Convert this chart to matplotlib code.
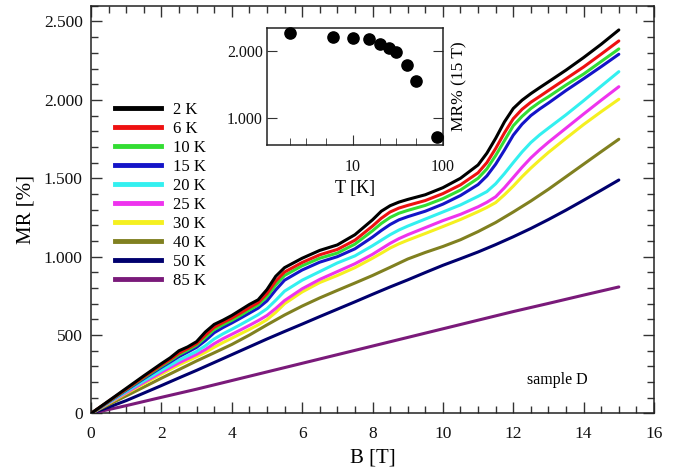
import matplotlib
matplotlib.use('Agg')
import matplotlib.pyplot as plt
from matplotlib.ticker import MultipleLocator, FuncFormatter, FixedLocator, NullFormatter
from matplotlib.lines import Line2D

plt.rcParams['font.family'] = ['Liberation Serif', 'DejaVu Serif']

# ---------------- data ----------------
B_fine = [0, 0.5, 1, 1.5, 2, 2.25, 2.5, 2.75, 3, 3.25, 3.5, 3.75, 4, 4.25, 4.5, 4.75,
          5, 5.25, 5.5, 6, 6.5, 7, 7.5, 8, 8.25, 8.5, 8.75, 9, 9.5, 10, 10.5, 11, 11.25, 11.5,
          11.75, 12, 12.25, 12.5, 12.75, 13, 13.5, 14, 14.5, 15]

mr_2K = [0, 80, 160, 240, 318, 355, 400, 425, 458, 520, 568, 595, 625, 660, 695, 725,
         790, 875, 930, 990, 1040, 1075, 1140, 1235, 1290, 1325, 1348, 1365, 1395, 1440, 1500, 1585, 1660, 1755,
         1860, 1945, 1998, 2040, 2078, 2115, 2190, 2270, 2355, 2446]
mr_6K = [0, 78, 155, 233, 309, 345, 385, 414, 446, 500, 550, 580, 608, 641, 675, 707,
         765, 845, 902, 963, 1012, 1046, 1105, 1195, 1245, 1285, 1310, 1327, 1358, 1402, 1458, 1535, 1600, 1690,
         1790, 1880, 1940, 1985, 2022, 2060, 2135, 2210, 2292, 2376]
mr_10K = [0, 76, 152, 228, 302, 337, 375, 404, 436, 485, 535, 566, 594, 626, 660, 692,
          745, 820, 880, 942, 990, 1023, 1080, 1165, 1212, 1250, 1277, 1295, 1327, 1370, 1425, 1500, 1560, 1645,
          1740, 1835, 1895, 1945, 1985, 2020, 2095, 2165, 2245, 2325]
mr_15K = [0, 74, 148, 222, 294, 328, 363, 392, 422, 465, 515, 548, 577, 608, 640, 672,
          718, 788, 850, 915, 965, 1000, 1050, 1125, 1167, 1205, 1235, 1255, 1290, 1335, 1390, 1460, 1515, 1590,
          1680, 1775, 1845, 1900, 1942, 1980, 2060, 2135, 2212, 2291]
mr_20K = [0, 70, 140, 208, 275, 307, 340, 368, 396, 432, 475, 508, 537, 567, 598, 630,
          668, 722, 780, 850, 905, 960, 1005, 1070, 1105, 1140, 1170, 1195, 1240, 1285, 1330, 1385, 1415, 1465,
          1530, 1600, 1668, 1728, 1777, 1820, 1905, 1995, 2088, 2180]
mr_25K = [0, 67, 133, 198, 262, 293, 323, 350, 377, 408, 445, 477, 505, 533, 562, 592,
          625, 670, 720, 795, 855, 905, 955, 1015, 1050, 1085, 1115, 1140, 1185, 1230, 1270, 1318, 1347, 1382,
          1440, 1505, 1570, 1630, 1682, 1730, 1820, 1910, 1998, 2084]
mr_30K = [0, 64, 128, 190, 251, 281, 310, 336, 362, 390, 422, 452, 480, 508, 536, 565,
          598, 645, 700, 775, 835, 880, 930, 990, 1022, 1055, 1082, 1105, 1148, 1192, 1237, 1287, 1314, 1345,
          1395, 1450, 1510, 1565, 1616, 1665, 1755, 1843, 1925, 2004]

B_half = [0, 0.5, 1, 1.5, 2, 2.5, 3, 3.5, 4, 4.5, 5, 5.5, 6, 6.5, 7, 7.5, 8, 8.5, 9, 9.5,
          10, 10.5, 11, 11.5, 12, 12.5, 13, 13.5, 14, 14.5, 15]
mr_40K = [0, 56, 112, 168, 225, 280, 335, 387, 440, 500, 565, 628, 685, 737, 785, 832, 880, 932, 985, 1027,
          1065, 1108, 1160, 1218, 1285, 1355, 1430, 1510, 1590, 1670, 1749]
mr_50K = [0, 40, 82, 130, 178, 227, 275, 325, 375, 425, 475, 523, 570, 618, 665, 712, 760, 807, 852, 899,
          945, 987, 1030, 1077, 1127, 1180, 1237, 1297, 1360, 1424, 1489]

B_coarse = [0, 1, 2, 3, 4, 5, 6, 7, 8, 9, 10, 11, 12, 13, 14, 15]
mr_85K = [0, 50, 103, 155, 210, 265, 320, 375, 430, 485, 540, 595, 650, 702, 755, 807]

labels = ['2 K', '6 K', '10 K', '15 K', '20 K', '25 K', '30 K', '40 K', '50 K', '85 K']
colors = ['#000000', '#ee1111', '#33dd33', '#1414c8', '#33f0f0', '#ee33ee',
          '#f5f020', '#808020', '#00006e', '#7a1a7a']

T_inset = [2, 6, 10, 15, 20, 25, 30, 40, 50, 85]
MR15_inset = [2276, 2220, 2200, 2180, 2110, 2050, 1985, 1790, 1555, 720]

# ---------------- figure ----------------
fig = plt.figure(figsize=(6.73, 4.75), dpi=100)
ax = fig.add_axes([0.1352, 0.1295, 0.8366, 0.8583])

series = [(B_fine, mr_2K), (B_fine, mr_6K), (B_fine, mr_10K), (B_fine, mr_15K),
          (B_fine, mr_20K), (B_fine, mr_25K), (B_fine, mr_30K),
          (B_half, mr_40K), (B_half, mr_50K), (B_coarse, mr_85K)]
n = len(series)
for i, ((bx, my), c) in enumerate(zip(series, colors)):
    ax.plot(bx, my, color=c, lw=2.2, solid_joinstyle='round', solid_capstyle='round',
            zorder=3 + (n - i) * 0.1)

ax.set_xlim(0, 16)
ax.set_ylim(0, 2600)
ax.xaxis.set_major_locator(MultipleLocator(2))
ax.xaxis.set_minor_locator(MultipleLocator(0.5))
ax.yaxis.set_major_locator(MultipleLocator(500))
ax.yaxis.set_minor_locator(MultipleLocator(100))


def thousands(v, pos):
    return '{:,}'.format(int(round(v))).replace(',', '.')


ax.yaxis.set_major_formatter(FuncFormatter(thousands))
ax.tick_params(which='both', direction='in', top=True, right=True, width=1, colors='#333333',
               labelcolor='#111111')
ax.tick_params(which='major', length=8)
ax.tick_params(which='minor', length=5)
ax.tick_params(axis='x', which='major', labelsize=12.5, pad=9)
ax.tick_params(axis='y', which='major', labelsize=12.5, pad=6)
for s in ax.spines.values():
    s.set_linewidth(1.1)
    s.set_color('#222222')

ax.set_xlabel('B [T]', fontsize=15, labelpad=5)
ax.set_ylabel('MR [%]', fontsize=15, labelpad=6)

ax.text(12.4, 215, 'sample D', fontsize=11.5, ha='left', va='center')

handles = [Line2D([], [], color=c, lw=3.5) for c in colors]
leg = ax.legend(handles, labels, loc='upper left', bbox_to_anchor=(0.043, 0.765),
                frameon=False, fontsize=12, handlelength=2.75, handletextpad=0.7,
                labelspacing=0.18, borderpad=0, borderaxespad=0)

# ---------------- inset ----------------
ins = fig.add_axes([0.3967, 0.6947, 0.2615, 0.2463])
ins.scatter(T_inset, MR15_inset, s=65, color='black', zorder=3, clip_on=False)
ins.set_xscale('log')
ins.set_xlim(1.1, 100)
ins.set_ylim(600, 2350)
ins.xaxis.set_major_locator(FixedLocator([10, 100]))
ins.xaxis.set_minor_locator(FixedLocator([2, 3, 5, 20, 30, 50]))
ins.xaxis.set_minor_formatter(NullFormatter())
ins.xaxis.set_major_formatter(FuncFormatter(lambda v, p: '{:d}'.format(int(v))))
ins.yaxis.set_major_locator(FixedLocator([1000, 2000]))
ins.yaxis.set_major_formatter(FuncFormatter(thousands))
ins.tick_params(which='both', direction='in', top=False, right=True, colors='#333333',
                labelcolor='#111111')
ins.tick_params(which='major', length=7)
ins.tick_params(which='minor', length=5)
ins.tick_params(axis='x', labelsize=11.5, pad=10)
ins.tick_params(axis='y', labelsize=11.5, pad=3)
for s in ins.spines.values():
    s.set_linewidth(1.1)
    s.set_color('#222222')
ins.set_xlabel('T [K]', fontsize=13, labelpad=4)
ins.yaxis.set_label_position('right')
ins.set_ylabel('MR% (15 T)', fontsize=12.5, labelpad=6)

fig.savefig('out.png', dpi=100)
